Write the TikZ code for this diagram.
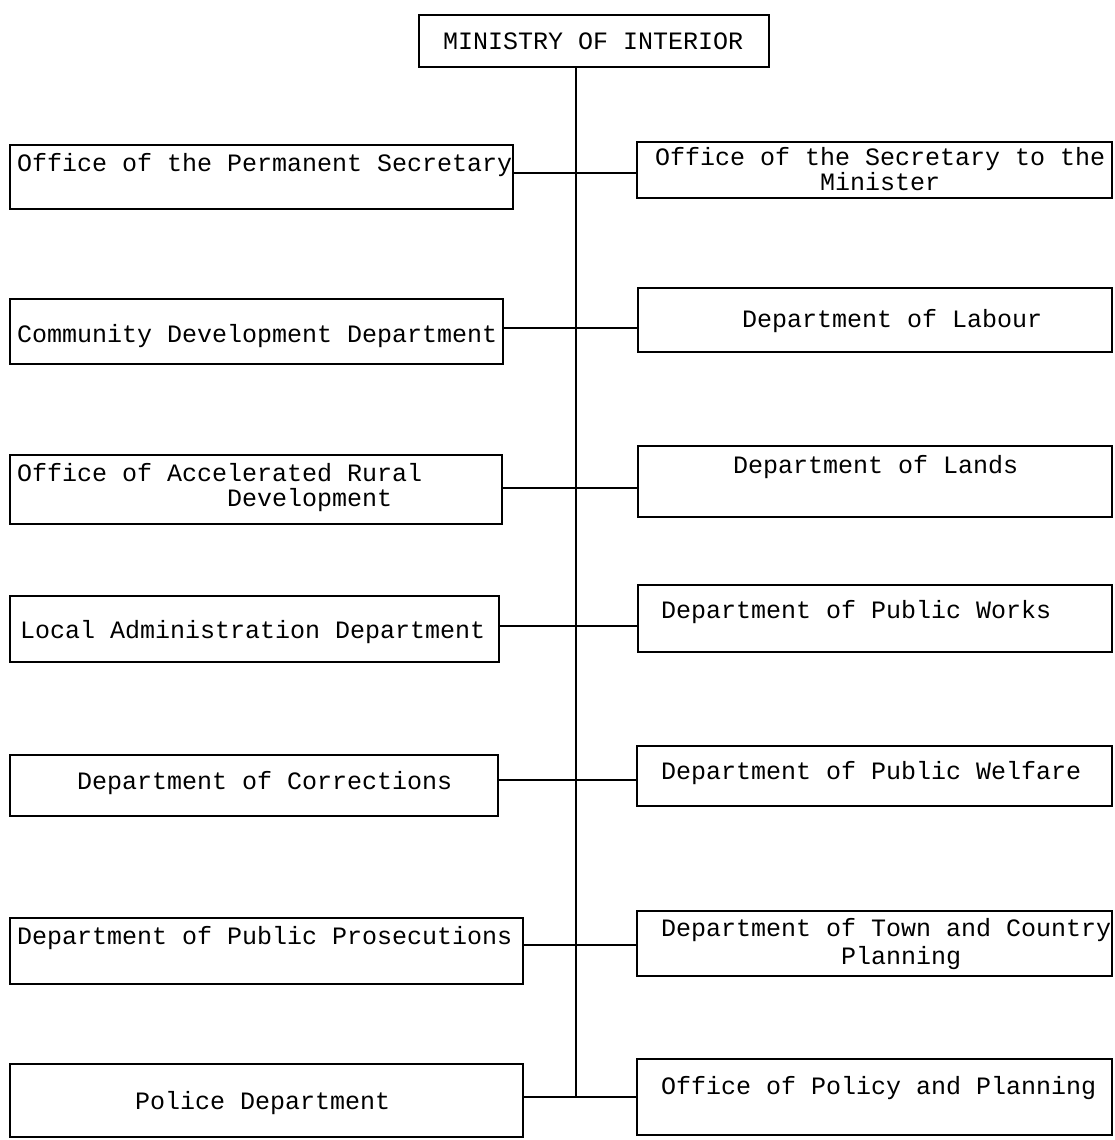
\documentclass[tikz,border=0pt]{standalone}
\usepackage{fontspec}
\newfontfamily\tw{Liberation Mono}
\begin{document}
\begin{tikzpicture}[x=1pt,y=-1pt,
  orgbox/.style={draw=black,line width=1.7pt,inner sep=0pt,outer sep=0pt,rectangle},
  lbl/.style={anchor=west,inner sep=0pt,outer sep=0pt,align=left,
    font=\tw\fontsize{25}{25}\selectfont},
  conn/.style={draw=black,line width=1.5pt}]
\useasboundingbox (0,0) rectangle (1115,1140);
\newcommand\obox[5]{%
  \pgfmathsetmacro\bw{#4-#2}\pgfmathsetmacro\bh{#5-#3}%
  \pgfmathsetmacro\bcx{(#2+#4)/2}\pgfmathsetmacro\bcy{(#3+#5)/2}%
  \node[orgbox,minimum width=\bw pt,minimum height=\bh pt] (#1) at (\bcx,\bcy) {};}
% boxes
\obox{min}{419}{15}{769}{67}
\obox{perm}{10}{145}{513}{209}
\obox{sec}{637}{142}{1112}{198}
\obox{comm}{10}{299}{503}{364}
\obox{lab}{638}{288}{1112}{352}
\obox{acc}{10}{455}{502}{524}
\obox{lands}{638}{446}{1112}{517}
\obox{local}{10}{596}{499}{662}
\obox{works}{638}{585}{1112}{652}
\obox{corr}{10}{755}{498}{816}
\obox{welf}{637}{746}{1112}{806}
\obox{pros}{10}{918}{523}{984}
\obox{town}{637}{911}{1112}{976}
\obox{police}{10}{1064}{523}{1137}
\obox{policy}{637}{1059}{1112}{1135}
% labels
\node[lbl] (tmin) at (443,41) {MINISTRY OF INTERIOR};
\node[lbl] (tperm) at (17,165) {Office of the Permanent Secretary};
\node[lbl] (tsec) at (655,169) {Office of the Secretary to the\\\hphantom{00000000000}Minister};
\node[lbl] (tcomm) at (17,336) {Community Development Department};
\node[lbl] (tlab) at (742,321) {Department of Labour};
\node[lbl] (tacc) at (17,488) {Office of Accelerated Rural\\\hphantom{00000000000000}Development};
\node[lbl] (tlands) at (733,467) {Department of Lands};
\node[lbl] (tlocal) at (20,632) {Local Administration Department};
\node[lbl] (tworks) at (661,612) {Department of Public Works};
\node[lbl] (tcorr) at (77,783) {Department of Corrections};
\node[lbl] (twelf) at (661,773) {Department of Public Welfare};
\node[lbl] (tpros) at (17,938) {Department of Public Prosecutions};
\node[lbl,font=\tw\fontsize{25}{28}\selectfont] (ttown) at (661,944) {Department of Town and Country\\\hphantom{000000000000}Planning};
\node[lbl] (tpolice) at (135,1103) {Police Department};
\node[lbl] (tpolicy) at (661,1088) {Office of Policy and Planning};
% junctions on the spine
\coordinate (j1) at (576,173);
\coordinate (j2) at (576,328);
\coordinate (j3) at (576,488);
\coordinate (j4) at (576,626);
\coordinate (j5) at (576,780);
\coordinate (j6) at (576,945);
\coordinate (j7) at (576,1097);
% spine
\draw[conn] (j1 |- min.south) -- (j7);
% connectors
\draw[conn] (j1 -| perm.east) -- (j1 -| sec.west);
\draw[conn] (j2 -| comm.east) -- (j2 -| lab.west);
\draw[conn] (j3 -| acc.east) -- (j3 -| lands.west);
\draw[conn] (j4 -| local.east) -- (j4 -| works.west);
\draw[conn] (j5 -| corr.east) -- (j5 -| welf.west);
\draw[conn] (j6 -| pros.east) -- (j6 -| town.west);
\draw[conn] (j7 -| police.east) -- (j7 -| policy.west);
\end{tikzpicture}
\end{document}
